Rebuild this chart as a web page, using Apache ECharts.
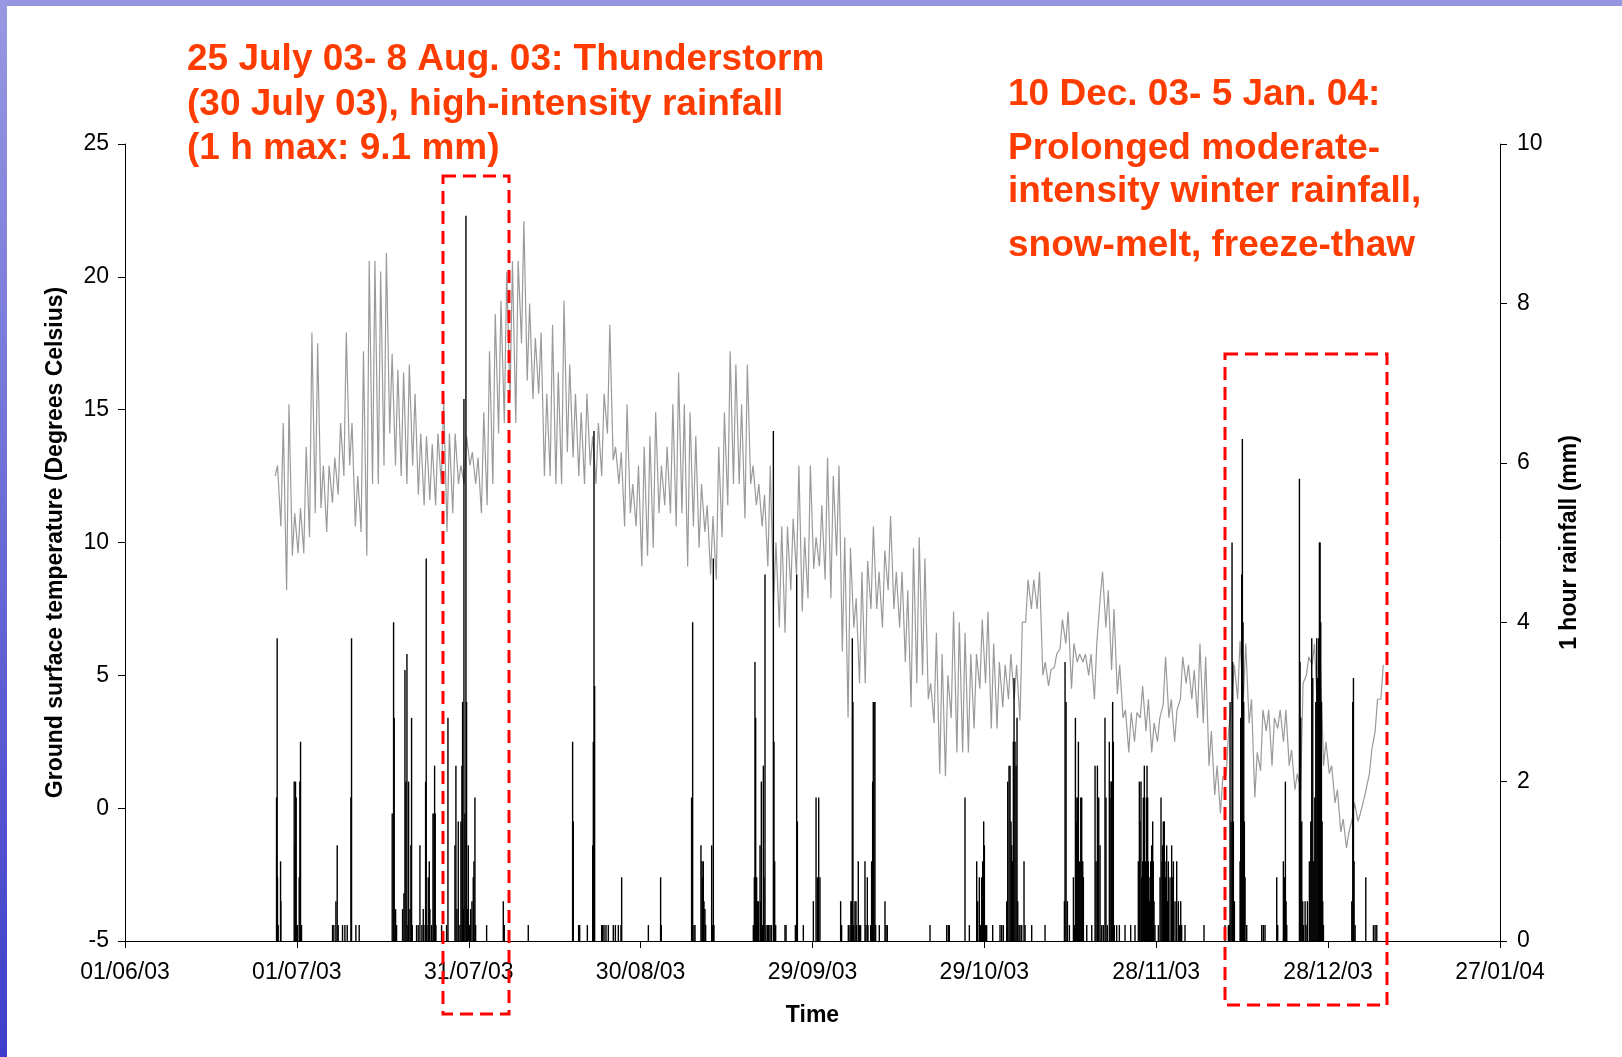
<!DOCTYPE html>
<html>
<head>
<meta charset="utf-8">
<script src="https://cdn.jsdelivr.net/npm/echarts@6/dist/echarts.min.js"></script>
<style>
html,body{margin:0;padding:0;background:#fff;}
#chart{width:1622px;height:1057px;}
</style>
</head>
<body>
<div id="chart"></div>
<script>
// x axis: days since 01/06/03
const xTickLabels = ['01/06/03','01/07/03','31/07/03','30/08/03','29/09/03','29/10/03','28/11/03','28/12/03','27/01/04'];
const leftTicks = [-5, 0, 5, 10, 15, 20, 25];
const rightTicks = [0, 2, 4, 6, 8, 10];

// Daily ground surface temperature (°C), first day = day 26 (27/06/03)
const tempStartDay = 26;
const tempMin = [
12.5,10.6,8.2,9.5,9.6,9.6,10.2,11.1,11.3,10.4,11.5,11.8,12.5,12.9,10.6,10.4,9.5,12.2,12.2,12.9,
14.1,12.9,12.5,12.2,12.9,11.8,11.4,11.6,11.4,12.2,10.4,11.1,12.2,12.2,12.9,12.2,11.1,11.4,12.2,14.1,
14.5,15.4,14.5,17.5,16.1,15.4,15.6,12.5,12.5,12.2,12.2,13.4,13.2,12.5,12.2,12.9,12.2,12.5,14.1,13.1,
12.2,10.6,11.1,10.6,9.1,9.5,9.8,11.1,11.4,11.1,10.6,11.1,9.1,10.6,9.8,10.4,8.8,8.6,10.2,11.4,
12.2,12.2,10.9,12.2,11.4,10.6,9.1,7.7,6.8,6.6,8.2,8.8,7.4,7.9,9.0,9.1,8.6,7.9,9.5,5.9,
3.4,6.8,4.7,4.7,7.5,7.5,6.8,8.2,7.5,6.8,5.5,3.8,4.7,5.0,4.1,3.2,1.3,1.2,3.4,2.1,
2.1,2.1,3.0,4.5,4.7,3.0,3.0,3.8,4.1,4.1,3.3,7.0,7.5,7.5,5.0,4.6,5.3,6.0,6.2,4.5,
5.5,5.5,5.0,4.1,7.9,6.8,5.2,4.3,3.4,2.1,2.5,3.4,2.9,2.1,2.5,3.9,3.4,2.5,4.1,4.7,
4.1,3.4,3.2,1.6,0.5,-0.2,1.2,4.1,4.1,4.1,3.2,0.4,1.4,2.9,1.6,3.0,2.5,1.6,0.7,0.7,
5.0,5.4,3.2,1.6,1.3,0.2,-0.9,-1.5,-0.4,-0.5,0.3,1.3,2.9,4.1
];
const tempMax = [
12.9,14.5,15.2,11.1,11.3,13.6,17.9,17.5,12.9,12.9,13.2,14.5,17.9,14.5,12.5,17.2,20.6,20.6,20.2,20.9,
17.1,16.5,16.4,16.7,15.6,14.1,14.0,13.7,14.1,15.4,14.1,14.1,12.9,14.0,13.4,13.2,14.9,17.2,18.6,19.1,
20.2,20.6,20.6,22.1,19.0,17.7,17.9,15.6,18.2,16.4,19.1,16.7,15.6,14.9,15.6,14.0,14.5,15.6,18.2,13.6,
13.4,15.2,12.2,12.9,13.6,14.0,14.9,12.9,13.6,15.2,16.4,15.2,14.9,14.0,12.2,11.4,11.0,13.6,14.9,17.2,
16.7,15.2,16.7,12.9,12.2,11.8,12.9,10.0,10.6,10.6,10.9,12.9,10.2,12.9,10.2,11.4,13.2,12.5,12.9,10.2,
9.8,7.9,8.9,9.3,10.6,8.9,9.7,11.0,8.9,8.9,8.2,9.8,10.2,9.4,4.7,6.6,5.8,5.0,7.4,7.0,
6.6,5.8,5.8,7.1,7.4,6.2,5.5,5.4,5.8,5.4,7.0,8.6,8.6,8.9,5.5,5.2,5.8,7.1,7.4,6.2,
5.8,5.8,5.8,6.2,8.9,8.2,7.5,5.4,3.7,3.6,3.6,4.6,4.1,3.2,3.4,5.7,4.1,3.7,5.7,5.4,
5.2,6.2,5.7,2.9,1.6,1.2,2.9,5.4,6.3,6.2,4.1,2.1,3.7,3.7,3.4,3.7,3.7,2.2,1.3,4.7,
5.7,6.2,5.7,2.5,1.6,0.7,-0.4,-0.9,0.2,-0.2,0.7,2.2,4.1,5.4
];

// Hourly rainfall events: [day since 01/06/03, mm]
const rainfall = [
[26.45,1.8],[26.56,3.8],[26.62,0.8],[26.74,0.2],[27.15,1.0],[27.2,0.5],
[29.53,2.0],[29.65,1.2],[29.76,2.0],[29.88,1.8],[30.0,0.2],[30.11,0.2],[30.4,0.8],[30.52,2.0],[30.64,2.5],[30.7,0.2],[30.81,0.2],
[36.23,0.2],[36.46,0.2],[36.81,0.5],[37.04,1.2],[37.21,0.2],[37.97,0.2],[38.38,0.2],[38.79,0.2],
[39.43,1.8],[39.54,3.8],[40.3,0.2],[40.88,0.2],
[46.64,1.6],[46.88,4.0],[46.99,2.8],[47.23,0.4],[47.4,0.2],
[48.45,0.4],[48.68,0.6],[48.86,3.4],[49.03,2.0],[49.21,3.6],[49.38,0.2],[49.5,2.0],[49.73,0.4],[49.9,1.2],[50.02,2.8],[50.14,0.2],
[50.89,0.2],[51.18,0.2],[51.48,1.2],[51.82,0.2],[52.06,0.4],[52.17,0.2],[52.47,2.0],[52.58,4.8],[52.7,0.2],[52.93,0.8],
[53.11,1.0],[53.22,0.4],[53.51,0.2],[53.75,1.6],[53.92,1.6],[54.04,2.2],[54.15,1.6],[54.27,0.2],
[55.26,0.2],[56.13,0.2],[56.37,2.8],
[57.59,1.2],[57.76,2.2],[57.94,0.4],[58.17,1.5],[58.46,0.2],[58.63,1.5],[58.81,2.2],[58.93,3.0],[59.1,0.4],[59.16,6.8],
[59.33,1.6],[59.51,9.1],[59.62,3.0],[59.74,0.4],[59.92,1.2],[60.09,0.2],[60.21,0.2],[60.32,0.4],[60.56,0.5],[60.79,0.8],
[60.91,1.0],[61.08,1.8],[61.2,0.2],
[63.12,0.2],[66.03,0.5],[66.2,0.2],[70.39,0.2],
[78.13,2.5],[78.25,1.5],[79.18,0.2],[79.36,0.2],[80.7,0.2],[81.63,1.2],[81.74,2.5],[81.86,6.4],[81.97,3.2],
[83.2,0.2],[83.37,0.2],[83.61,0.2],[83.95,0.2],[84.36,0.2],[85.23,0.2],[85.59,0.2],[86.11,0.2],[86.57,0.2],[86.69,0.8],
[91.35,0.2],[93.49,0.8],[93.61,0.2],
[98.9,1.8],[99.08,4.0],[99.31,0.2],[99.49,0.2],
[100.53,1.2],[100.71,1.0],[100.82,0.8],[100.94,1.0],[101.06,0.5],[101.23,0.4],[101.35,0.2],
[102.4,1.2],[102.57,0.2],[102.69,4.8],[102.8,0.2],
[109.67,0.2],[109.85,0.8],[109.96,3.5],[110.08,2.8],[110.25,0.8],[110.43,0.5],[110.54,0.5],[110.84,1.2],[110.95,0.5],
[111.07,2.0],[111.24,0.2],[111.42,2.2],[111.54,0.8],[111.71,4.6],[111.88,0.2],[112.18,0.2],[112.35,0.2],[112.58,0.2],
[112.82,0.2],[113.17,6.4],[113.28,2.5],[113.4,1.0],[113.57,0.2],
[115.2,0.2],[115.38,0.2],[117.01,0.2],[117.24,4.6],[117.36,1.5],[118.4,0.2],
[120.15,0.5],[120.62,1.8],[120.85,0.8],[121.08,1.8],[121.3,0.8],
[124.91,0.5],[125.08,0.2],[126.25,0.2],[126.54,0.2],[126.71,0.5],[126.83,0.5],[126.95,3.8],[127.06,3.0],[127.18,0.2],
[127.41,0.5],[127.59,0.5],[127.7,0.2],[127.99,1.0],[128.17,0.2],[128.4,0.2],[129.16,1.0],[129.33,0.2],[129.57,0.8],
[129.68,0.2],[130.15,0.2],[130.32,1.0],[130.5,2.0],[130.61,3.0],[130.73,3.0],[130.9,3.0],[131.02,0.2],[131.66,0.2],
[132.65,0.5],[132.83,0.2],[133.06,0.2],
[140.51,0.2],[143.42,0.2],[143.71,0.2],[143.88,0.2],[146.62,1.8],[147.38,0.2],
[148.66,1.0],[148.83,0.5],[149.12,0.8],[149.36,0.2],[149.53,0.8],[149.71,1.0],[149.88,1.5],[150.0,1.2],[150.17,0.2],[150.4,0.2],
[151.45,0.2],[152.73,0.2],[153.02,0.2],[153.31,0.2],
[153.9,0.5],[154.07,2.0],[154.3,2.2],[154.48,2.2],[154.65,1.5],[154.77,1.2],[154.94,1.0],[155.06,2.5],[155.18,3.3],
[155.35,2.5],[155.53,2.2],[155.7,2.8],[155.82,0.5],[156.05,0.2],[156.22,0.2],[156.52,0.2],[156.92,1.0],[157.1,0.2],
[158.26,0.2],[160.59,0.2],
[163.97,0.5],[164.08,3.5],[164.26,3.0],[164.49,0.5],[164.84,0.2],[165.54,0.8],[165.71,0.2],[165.89,2.8],[166.0,1.8],
[166.12,1.5],[166.24,1.8],[166.41,2.5],[166.59,1.0],[166.82,1.8],[166.99,1.8],[167.17,1.0],[167.28,0.8],[167.87,0.2],
[168.74,0.2],[169.32,2.2],[169.5,1.0],[169.73,2.2],[169.96,1.8],[170.19,1.2],
[170.47,0.2],[170.76,0.2],[171.05,2.8],[171.23,1.8],[171.46,0.2],[171.81,2.5],[171.93,1.8],[172.1,2.0],[172.22,2.0],
[172.39,3.0],[172.51,2.5],[172.68,0.2],[173.09,0.2],[173.56,0.2],[174.55,0.2],[175.54,0.2],[176.29,0.2],
[176.87,1.0],[177.05,2.0],[177.16,1.5],[177.34,2.0],[177.46,0.8],[177.63,1.0],[177.75,1.8],[177.92,2.2],[178.1,1.0],
[178.27,1.8],[178.39,2.2],[178.5,1.8],[178.62,1.0],[178.79,0.5],[178.91,0.8],[179.03,1.0],[179.2,1.2],[179.38,1.5],
[179.49,1.0],[179.61,0.5],[179.78,0.2],
[180.37,0.2],[180.66,0.8],[180.83,1.8],[181.01,1.0],[181.12,1.2],[181.24,1.5],[181.41,1.5],[181.59,0.8],[181.71,1.0],
[181.82,1.2],[182.0,0.5],[182.11,1.0],[182.4,0.8],[182.69,1.2],[182.87,0.8],[182.99,1.0],[183.28,0.5],[183.57,1.0],
[183.86,0.5],[184.03,0.2],[184.27,0.5],[184.44,0.2],[185.02,0.2],[188.34,0.2],
[192.01,0.2],[192.59,0.2],[192.76,0.2],[192.88,3.0],[193.06,1.5],[193.23,5.0],[193.35,3.5],[193.46,1.5],[193.64,0.5],
[194.63,1.0],[194.74,2.8],[194.92,4.6],[195.03,6.3],[195.15,4.0],[195.27,3.0],[195.38,1.5],[195.5,0.8],[195.79,0.2],
[198.41,0.2],[198.7,0.2],[198.99,0.2],
[201.03,0.8],[201.2,0.2],[202.19,1.0],[202.37,0.8],[202.54,2.0],[202.66,0.5],[202.78,0.2],
[204.99,5.8],[205.1,3.5],[205.22,2.8],[205.4,1.5],[205.57,0.5],[205.69,0.2],[205.98,0.5],[206.15,0.2],[206.39,0.5],
[206.73,1.0],[206.97,1.5],[207.14,3.8],[207.32,3.3],[207.49,1.0],[207.67,1.8],[207.84,3.0],[208.02,3.8],[208.19,3.3],
[208.36,3.8],[208.48,5.0],[208.6,5.0],[208.71,4.0],[208.83,3.0],[208.95,1.5],[209.06,0.5],[209.18,0.2],
[214.13,0.5],[214.3,3.0],[214.42,3.3],[214.53,1.0],[214.71,0.2],[216.57,0.8],[217.91,0.2],[218.2,0.2],[218.49,0.2]
];

const noteLeft = ['25 July 03- 8 Aug. 03: Thunderstorm', '(30 July 03), high-intensity rainfall', '(1 h max: 9.1 mm)'];
const noteRight = ['10 Dec. 03- 5 Jan. 04:', 'Prolonged moderate-', 'intensity winter rainfall,', 'snow-melt, freeze-thaw'];

// build temperature trace from the daily min / max readings
const tempLine = [];
tempMin.forEach(function (mn, i) {
  const d = tempStartDay + i;
  tempLine.push([d + 5 / 24, mn]);
  tempLine.push([d + 15 / 24, tempMax[i]]);
});

const FONT = '"Liberation Sans", Arial, sans-serif';
const RED_TEXT = '#ff3c00';
const chart = echarts.init(document.getElementById('chart'), null, {renderer: 'canvas'});

const graphics = [
  {type: 'rect', shape: {x: 0, y: 0, width: 1622, height: 6}, style: {fill: '#9595e0'}, z: 100},
  {type: 'rect', shape: {x: 0, y: 0, width: 7, height: 1057},
    style: {fill: new echarts.graphic.LinearGradient(0, 0, 0, 1, [{offset: 0, color: '#9898e2'}, {offset: 1, color: '#3e3ecb'}])}, z: 100},
  {type: 'rect', shape: {x: 443, y: 176, width: 66, height: 838},
    style: {fill: null, stroke: '#ff0000', lineWidth: 3, lineDash: [13, 7]}, z: 50},
  {type: 'rect', shape: {x: 1225, y: 354, width: 162, height: 651},
    style: {fill: null, stroke: '#ff0000', lineWidth: 3, lineDash: [13, 7]}, z: 50}
];
const leftY = [60, 105, 149];
noteLeft.forEach(function (t, i) {
  graphics.push({type: 'text', x: 187, y: leftY[i], z: 60,
    style: {text: t, fill: RED_TEXT, font: 'bold 37px ' + FONT, verticalAlign: 'middle', align: 'left'}});
});
const rightY = [95, 149, 192, 246];
noteRight.forEach(function (t, i) {
  graphics.push({type: 'text', x: 1008, y: rightY[i], z: 60,
    style: {text: t, fill: RED_TEXT, font: 'bold 37px ' + FONT, verticalAlign: 'middle', align: 'left'}});
});

const axisCommon = {
  axisLine: {show: true, onZero: false, lineStyle: {color: '#000', width: 1}},
  axisTick: {show: true, length: 7, lineStyle: {color: '#000'}},
  splitLine: {show: false},
  axisLabel: {color: '#000', fontSize: 23, fontFamily: FONT},
  nameTextStyle: {color: '#000', fontSize: 23, fontWeight: 'bold', fontFamily: FONT}
};

chart.setOption({
  animation: false,
  backgroundColor: '#ffffff',
  grid: {left: 125, right: 122, top: 144, bottom: 116, containLabel: false},
  xAxis: Object.assign({}, axisCommon, {
    type: 'value', min: 0, max: 240, interval: 30,
    name: 'Time', nameLocation: 'middle', nameGap: 63,
    axisLabel: Object.assign({}, axisCommon.axisLabel, {margin: 20,
      formatter: function (v) { return xTickLabels[Math.round(v / 30)] || ''; }})
  }),
  yAxis: [
    Object.assign({}, axisCommon, {
      type: 'value', min: leftTicks[0], max: leftTicks[leftTicks.length - 1], interval: 5,
      name: 'Ground surface temperature (Degrees Celsius)', nameLocation: 'middle', nameGap: 58, nameRotate: 90,
      axisLabel: Object.assign({}, axisCommon.axisLabel, {margin: 16})
    }),
    Object.assign({}, axisCommon, {
      type: 'value', position: 'right', min: rightTicks[0], max: rightTicks[rightTicks.length - 1], interval: 2,
      name: '1 hour rainfall (mm)', nameLocation: 'middle', nameGap: 58, nameRotate: 90,
      axisLabel: Object.assign({}, axisCommon.axisLabel, {margin: 17})
    })
  ],
  series: [
    {type: 'line', data: tempLine, yAxisIndex: 0, showSymbol: false, symbol: 'none', silent: true,
      lineStyle: {color: '#9a9a9a', width: 1.2}, z: 2},
    {type: 'bar', data: rainfall, yAxisIndex: 1, barWidth: 1.4, silent: true,
      itemStyle: {color: '#000'}, z: 3}
  ],
  graphic: graphics
});
</script>
</body>
</html>
